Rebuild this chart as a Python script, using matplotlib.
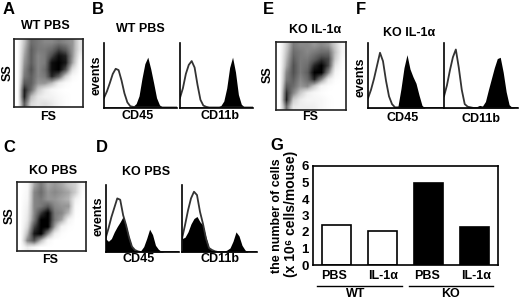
import numpy as np
import matplotlib
matplotlib.use('Agg')
import matplotlib.pyplot as plt
from matplotlib.lines import Line2D

plt.rcParams['font.family'] = ['Liberation Sans', 'DejaVu Sans']
plt.rcParams['font.weight'] = 'bold'

W, H = 520, 300

# cell counts for panel G
bar_labels = ['PBS', 'IL-1α', 'PBS', 'IL-1α']
bar_values = [2.45, 2.05, 5.0, 2.3]
bar_colors = ['white', 'white', 'black', 'black']

# scatter density (darkness 0-1), top row first
density_a = [
    [.00, .35, .65, .60, .55, .55, .60, .55, .50, .20],
    [.00, .40, .70, .60, .60, .65, .78, .70, .50, .20],
    [.00, .45, .70, .55, .60, .78, .95, .88, .50, .12],
    [.00, .50, .70, .55, .60, .95, 1.0, .92, .45, .05],
    [.00, .55, .75, .55, .65, .95, 1.0, .75, .22, .02],
    [.00, .60, .70, .55, .60, .88, .70, .30, .05, .00],
    [.00, .72, .70, .50, .50, .38, .14, .04, .00, .00],
    [.00, .90, .65, .32, .16, .06, .02, .00, .00, .00],
    [.00, .90, .38, .18, .12, .10, .05, .02, .00, .00],
    [.00, .72, .25, .18, .22, .16, .08, .02, .00, .00],
]
density_c = [
    [.00, .05, .45, .60, .45, .50, .45, .35, .28, .06],
    [.00, .06, .55, .65, .50, .55, .50, .45, .30, .02],
    [.00, .08, .55, .60, .50, .50, .45, .40, .12, .00],
    [.00, .12, .55, .60, .72, .55, .50, .50, .05, .00],
    [.00, .15, .55, .82, 1.0, .60, .55, .38, .02, .00],
    [.00, .18, .60, 1.0, 1.0, .60, .45, .10, .00, .00],
    [.00, .25, .78, 1.0, 1.0, .45, .10, .02, .00, .00],
    [.00, .38, .92, 1.0, .55, .14, .02, .00, .00, .00],
    [.00, .55, .75, .38, .06, .00, .00, .00, .00, .00],
    [.00, .15, .08, .00, .00, .00, .00, .00, .00, .00],
]
density_e = [
    [.00, .30, .60, .55, .55, .50, .55, .50, .30, .08],
    [.00, .35, .65, .60, .55, .60, .65, .65, .35, .08],
    [.00, .40, .70, .60, .60, .70, .82, .78, .30, .04],
    [.00, .45, .75, .60, .65, .88, 1.0, .78, .18, .02],
    [.00, .55, .75, .60, .70, 1.0, 1.0, .55, .08, .00],
    [.00, .60, .70, .55, .65, .88, .55, .16, .02, .00],
    [.00, .72, .65, .50, .55, .32, .08, .02, .00, .00],
    [.00, .85, .55, .32, .14, .06, .02, .00, .00, .00],
    [.00, .90, .32, .15, .08, .08, .06, .02, .00, .00],
    [.00, .65, .18, .14, .14, .12, .06, .02, .00, .00],
]

# histograms, heights as fraction of the axis, on 26 log-scale channels
b1_open = [.15, .25, .38, .52, .60, .58, .42, .22, .08, .02, .01, 0, 0, 0, 0, 0, 0, 0, 0, 0, 0, 0, 0, 0, 0, 0]
b1_fill = [.01, .01, .01, .01, .01, .01, .01, .01, .01, .01, .02, .06, .18, .45, .68, .78, .60, .38, .15, .04, .01, 0, 0, 0, 0, 0]
b2_open = [.15, .30, .52, .66, .72, .62, .35, .12, .03, .01, 0, 0, 0, 0, 0, 0, 0, 0, 0, 0, 0, 0, 0, 0, 0, 0]
b2_fill = [.01, .01, .01, .01, .01, .01, .01, .01, .01, .01, .01, .01, .01, .01, .03, .10, .30, .62, .78, .55, .20, .05, .01, 0, 0, 0]
d1_open = [.20, .35, .52, .66, .80, .78, .55, .40, .22, .08, .03, .01, 0, 0, 0, 0, 0, 0, 0, 0, 0, 0, 0, 0, 0, 0]
d1_fill = [.20, .16, .20, .30, .38, .45, .53, .40, .22, .08, .03, .01, .02, .08, .20, .34, .26, .10, .04, .01, 0, 0, 0, 0, 0, 0]
d2_open = [.20, .40, .62, .80, .90, .85, .60, .42, .20, .06, .03, .01, 0, 0, 0, 0, 0, 0, 0, 0, 0, 0, 0, 0, 0, 0]
d2_fill = [.20, .22, .30, .42, .50, .53, .45, .40, .22, .06, .03, .01, .01, .01, .01, .03, .06, .16, .30, .24, .10, .03, 0, 0, 0, 0]
f1_open = [.15, .28, .45, .65, .85, .72, .42, .18, .06, .01, .01, 0, 0, 0, 0, 0, 0, 0, 0, 0, 0, 0, 0, 0, 0, 0]
f1_fill = [.01, .01, .01, .01, .01, .01, .01, .01, .01, .01, .03, .30, .62, .82, .60, .48, .38, .20, .04, 0, 0, 0, 0, 0, 0, 0]
f2_open = [.18, .35, .58, .78, .90, .62, .28, .06, .02, .01, 0, 0, 0, 0, 0, 0, 0, 0, 0, 0, 0, 0, 0, 0, 0, 0]
f2_fill = [.01, .01, .01, .01, .01, .01, .01, .01, .01, .01, .01, .02, .04, .03, .10, .28, .45, .62, .76, .78, .55, .25, .05, .01, 0, 0]
channels = [i / 25 for i in range(26)]


def axes_px(x0, y0, x1, y1):
    return fig.add_axes([x0 / W, 1 - y1 / H, (x1 - x0) / W, (y1 - y0) / H])


def label(x, y, s, size=9, **kw):
    fig.text(x / W, 1 - y / H, s, ha=kw.pop('ha', 'center'), va='center', fontsize=size, **kw)


def dot_plot(box, density):
    ax = axes_px(*box)
    ax.imshow(density, cmap='Greys', vmin=0, vmax=1.0, aspect='auto', interpolation='bilinear')
    ax.set_xticks([])
    ax.set_yticks([])
    for s in ax.spines.values():
        s.set_linewidth(1.2)
        s.set_color('#222222')


def histogram(box, open_vals, fill_vals):
    ax = axes_px(*box)
    ax.fill_between(channels, open_vals, color='white')
    ax.fill_between(channels, fill_vals, color='black', lw=0)
    ax.plot(channels, open_vals, color='#333333', lw=1.3)
    ax.set_xlim(0, 1)
    ax.set_ylim(0, 1)
    ax.set_xticks([])
    ax.set_yticks([])
    ax.spines['top'].set_visible(False)
    ax.spines['right'].set_visible(False)
    ax.spines['left'].set_linewidth(1.2)
    ax.spines['bottom'].set_linewidth(1.2)


fig = plt.figure(figsize=(W / 100, H / 100), dpi=100)

dot_plot((14, 39, 83, 107), density_a)
dot_plot((17, 182, 86, 251), density_c)
dot_plot((276, 42, 346, 110), density_e)

histogram((104, 43, 177, 107.5), b1_open, b1_fill)
histogram((180, 43, 253, 107.5), b2_open, b2_fill)
histogram((105.5, 185, 179, 252), d1_open, d1_fill)
histogram((182, 185, 257, 252), d2_open, d2_fill)
histogram((368, 43, 443, 108), f1_open, f1_fill)
histogram((444, 43, 518, 108), f2_open, f2_fill)

# panel G
ax = axes_px(313, 166, 498, 265)
ax.bar(range(4), bar_values, width=0.63, color=bar_colors, edgecolor='black', linewidth=1.2)
ax.set_xlim(-0.5, 3.52)
ax.set_ylim(0, 6)
ax.set_xticks([])
ax.set_yticks(range(7))
ax.tick_params(axis='y', length=0, pad=3, labelsize=9.5)
for s in ax.spines.values():
    s.set_linewidth(1.2)

for x, s in zip([334, 383, 427, 476], bar_labels):
    label(x, 276, s)
fig.add_artist(Line2D([317 / W, 402 / W], [1 - 286 / H] * 2, color='black', lw=1))
fig.add_artist(Line2D([409 / W, 493 / W], [1 - 286 / H] * 2, color='black', lw=1))
label(356, 294, 'WT')
label(450, 294, 'KO')
label(277, 216, 'the number of cells', size=9, rotation=90)
label(291, 214, '(x 10⁶ cells/mouse)', size=10, rotation=90)

# panel letters
for x, y, s in [(3, 10, 'A'), (92, 10, 'B'), (3, 147, 'C'), (96, 147, 'D'),
                (263, 10, 'E'), (356, 10, 'F'), (270, 146, 'G')]:
    label(x, y, s, size=12, ha='left')

# panel captions
label(45, 26, 'WT PBS')
label(140, 29, 'WT PBS')
label(8, 73, 'SS', rotation=90)
label(48, 117, 'FS')
label(97, 75, 'events', rotation=90)
label(138, 116, 'CD45')
label(220, 116, 'CD11b')

label(53, 171, 'KO PBS')
label(146, 172, 'KO PBS')
label(10, 216, 'SS', rotation=90)
label(50, 260, 'FS')
label(98, 216, 'events', rotation=90)
label(139, 259, 'CD45')
label(220, 259, 'CD11b')

label(315, 30, 'KO IL-1α')
label(409, 33, 'KO IL-1α')
label(268, 75, 'SS', rotation=90)
label(310, 117, 'FS')
label(360, 77, 'events', rotation=90)
label(403, 118, 'CD45')
label(481, 119, 'CD11b')

fig.savefig('out.png', dpi=100)
